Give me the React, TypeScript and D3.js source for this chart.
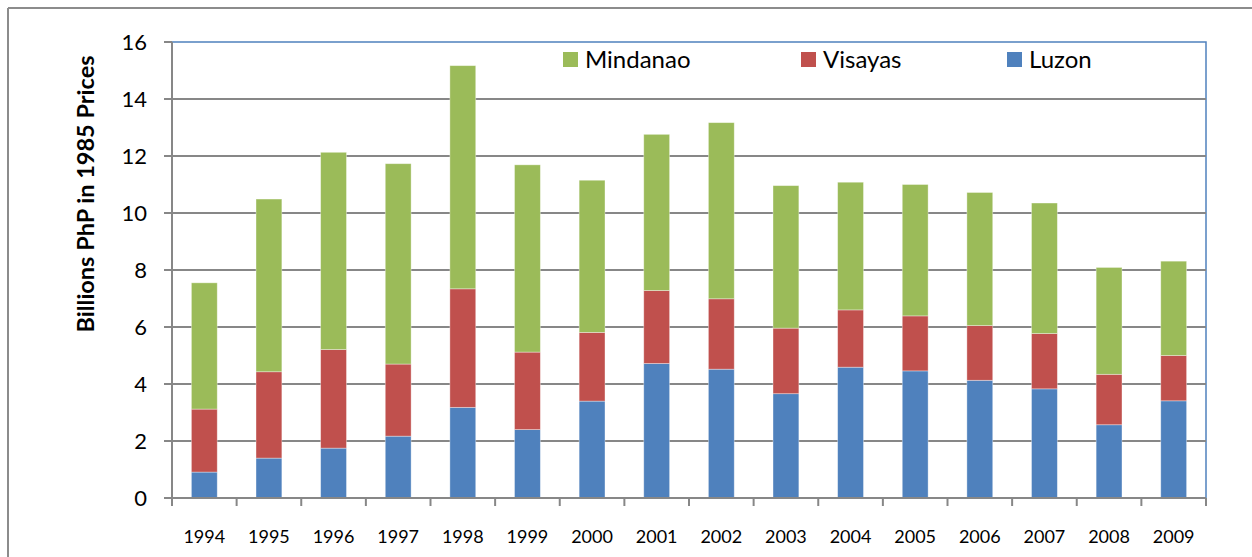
import React from "react";
import * as d3 from "d3";

const years = ["1994","1995","1996","1997","1998","1999","2000","2001","2002","2003","2004","2005","2006","2007","2008","2009"];
const luzon = [0.91,1.40,1.75,2.17,3.18,2.40,3.40,4.72,4.52,3.66,4.59,4.46,4.13,3.83,2.57,3.41];
const visayas = [2.21,3.03,3.46,2.53,4.16,2.72,2.41,2.56,2.47,2.30,2.01,1.93,1.92,1.94,1.77,1.59];
const mindanao = [4.43,6.06,6.92,7.03,7.83,6.57,5.34,5.48,6.18,5.00,4.48,4.61,4.67,4.58,3.75,3.31];
const yTicks = [0,2,4,6,8,10,12,14,16];
const seriesKeys = ["Luzon","Visayas","Mindanao"];
const legendOrder = ["Mindanao","Visayas","Luzon"];
const colors: Record<string,string> = { Luzon: "#4F81BD", Visayas: "#C0504D", Mindanao: "#9BBB59" };
const yTitle = "Billions PhP in 1985 Prices";

const W = 1252, H = 557;
const left = 172, right = 1206, top = 42, bottom = 498;
const font = "Lato, 'Open Sans', sans-serif";

export default function App() {
  const rows = years.map((y, i) => ({ year: y, Luzon: luzon[i], Visayas: visayas[i], Mindanao: mindanao[i] }));
  const stacked = d3.stack<any>().keys(seriesKeys)(rows);
  const x = d3.scaleBand().domain(years).range([left, right]).paddingInner(0.6).paddingOuter(0.3);
  const y = d3.scaleLinear().domain([0, 16]).range([bottom, top]);
  const step = x.step();
  const boundaries = d3.range(years.length + 1).map(i => left + i * step);
  const legendX: Record<string, number> = { Mindanao: 563, Visayas: 801, Luzon: 1007 };

  return (
    <div style={{ position: "fixed", left: 0, top: 0 }}>
      <svg width={W} height={H} style={{ display: "block", background: "#fff" }}>
        {/* outer frame */}
        <line x1={8} y1={8} x2={W + 10} y2={8} stroke="#8c8c8c" strokeWidth={2} />
        <line x1={8} y1={8} x2={8} y2={H + 10} stroke="#8c8c8c" strokeWidth={2} />
        {/* plot area border */}
        <rect x={left} y={top} width={right - left} height={bottom - top} fill="none" stroke="#4F81BD" strokeWidth={1.5} />
        {/* gridlines */}
        {yTicks.filter(t => t > 0 && t < 16).map(t => (
          <line key={t} x1={left} x2={right} y1={y(t)} y2={y(t)} stroke="#878787" strokeWidth={2} />
        ))}
        {/* bars */}
        {stacked.map(s => (
          <g key={s.key}>
            {s.map((d: any, i: number) => (
              <rect key={i} x={x(years[i])} y={y(d[1])} width={x.bandwidth()} height={y(d[0]) - y(d[1])}
                fill={colors[s.key]} stroke="#ffffff" strokeOpacity={0.45} strokeWidth={0.8} />
            ))}
          </g>
        ))}
        {/* y axis */}
        <line x1={left} x2={left} y1={top} y2={bottom} stroke="#878787" strokeWidth={2} />
        {yTicks.map(t => (
          <g key={t}>
            <line x1={left - 8} x2={left} y1={y(t)} y2={y(t)} stroke="#878787" strokeWidth={2} />
            <text x={147} y={y(t)} dy="0.36em" textAnchor="end" fontFamily={font} fontSize={22} fill="#000">{t}</text>
          </g>
        ))}
        {/* x axis */}
        <line x1={left - 8} x2={right} y1={bottom} y2={bottom} stroke="#878787" strokeWidth={2} />
        {boundaries.map((b, i) => (
          <line key={i} x1={b} x2={b} y1={bottom} y2={bottom + 8} stroke="#878787" strokeWidth={2} />
        ))}
        {years.map(yr => (
          <text key={yr} x={(x(yr) as number) + x.bandwidth() / 2} y={537} dy="0.36em" textAnchor="middle" fontFamily={font} fontSize={18} fill="#000">{yr}</text>
        ))}
        {/* y title */}
        <text transform={`translate(94,194) rotate(-90)`} textAnchor="middle" fontFamily={font} fontWeight="bold" fontSize={23.5} fill="#000">{yTitle}</text>
        {/* legend */}
        {legendOrder.map(k => (
          <g key={k}>
            <rect x={legendX[k]} y={52} width={15} height={15} fill={colors[k]} />
            <text x={legendX[k] + 22} y={59} dy="0.36em" fontFamily={font} fontSize={24} fill="#000">{k}</text>
          </g>
        ))}
      </svg>
    </div>
  );
}
